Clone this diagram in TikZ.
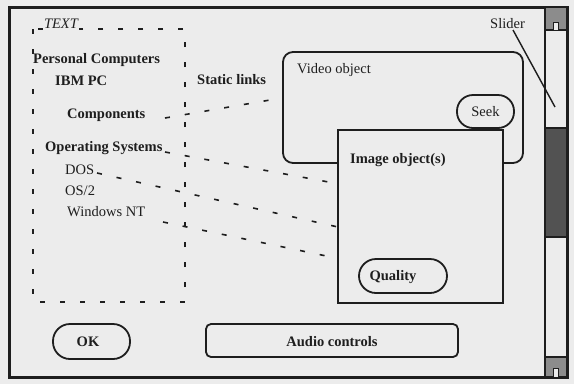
\documentclass[tikz,border=0pt]{standalone}
\usepackage{fontspec}
\setmainfont{Liberation Serif}
\definecolor{bg}{RGB}{236,236,236}
\definecolor{ink}{RGB}{30,30,30}
\begin{document}
\begin{tikzpicture}[x=1pt,y=-1pt]
\tikzset{
  txt/.style={inner sep=0pt, anchor=west, text=ink, font=\fontsize{14.5}{16}\selectfont, text height=9.5pt, text depth=3pt},
  btxt/.style={txt, font=\fontsize{14.5}{16}\selectfont\bfseries},
  ctxt/.style={txt, anchor=center},
  cbtxt/.style={btxt, anchor=center},
  boxline/.style={draw=ink, line width=1.8pt},
  btn/.style={boxline, fill=bg, inner sep=0pt, text=ink, font=\fontsize{14.5}{16}\selectfont\bfseries},
  linkline/.style={draw=ink, line width=1.6pt, dash pattern=on 5pt off 15pt},
  scrollcap/.style={draw=ink, line width=1.5pt, fill=black!45},
}
% background and bounding box
\fill[bg] (0,0) rectangle (574,384);
\useasboundingbox (0,0) rectangle (574,384);

% outer frame
\node[draw=ink, line width=3pt, minimum width=558pt, minimum height=370pt, inner sep=0pt] (frame) at (288,192) {};

% scrollbar
\draw[scrollcap] (545,7) rectangle (567,30);
\draw[draw=ink, line width=1pt, fill=bg] (553,30) |- (558,22) -- (558,30);
\draw[draw=ink, line width=1.5pt, fill=black!68] (545,128) rectangle (567,237);
\draw[scrollcap] (545,357) rectangle (567,377);
\draw[draw=ink, line width=1pt, fill=bg] (553,377) |- (558,368) -- (558,377);
\draw[draw=ink, line width=2pt] (545,7) -- (545,377);
\draw[draw=ink, line width=2pt] (567,7) -- (567,377);

% dashed TEXT box
\draw[draw=ink, line width=1.6pt, dash pattern=on 5pt off 15pt] (33,29) rectangle (185,302);
\node[inner sep=1pt, fill=bg, text=ink, font=\fontsize{14.5}{16}\selectfont\itshape] (textlbl) at (61,24) {TEXT};

% texts in the TEXT box
\node[btxt] (pc) at (33,60) {Personal Computers};
\node[btxt] (ibm) at (55,82) {IBM PC};
\node[btxt] (comp) at (67,115) {Components};
\node[btxt] (os) at (45,148) {Operating Systems};
\node[txt] (dos) at (65,171) {DOS};
\node[txt] (os2) at (65,192) {OS/2};
\node[txt] (nt) at (67,213) {Windows NT};

\node[btxt] (static) at (197,81) {Static links};

% video object
\node[boxline, fill=bg, rounded corners=10pt, minimum width=240pt, minimum height=111pt, inner sep=0pt] (video) at (403,107.5) {};
\node[txt] (videolbl) at (297,70) {Video object};

% image object
\node[boxline, fill=bg, minimum width=165pt, minimum height=173pt, inner sep=0pt] (image) at (420.5,216.5) {};
\node[btxt] (imagelbl) at (350,160) {Image object(s)};

% seek button
\node[btn, rounded corners=16pt, minimum width=57pt, minimum height=33pt, font=\fontsize{14.5}{16}\selectfont] (seek) at (485.5,111.5) {Seek};

% quality button
\node[btn, rounded corners=17pt, minimum width=88pt, minimum height=34pt] (quality) at (403,276) {};
\node[cbtxt] (qualitylbl) at (393,277) {Quality};

% audio controls
\node[btn, rounded corners=5pt, minimum width=252pt, minimum height=33pt] (audio) at (332,340.5) {};
\node[cbtxt] (audiolbl) at (332,343) {Audio controls};

% OK button
\node[btn, rounded corners=17pt, minimum width=77pt, minimum height=35pt] (ok) at (91.5,341.5) {};
\node[cbtxt] (oklbl) at (88,343) {OK};

% static link lines
\coordinate (s1) at (165,118);
\coordinate (e1) at (270,100);
\coordinate (s2) at (165,152);
\coordinate (e2) at (334,183);
\coordinate (s3) at (97,173);
\coordinate (e3) at (338,227);
\coordinate (s4) at (163,222);
\coordinate (e4) at (336,258);
\draw[linkline] (s1) -- (e1);
\draw[linkline] (s2) -- (e2);
\draw[linkline] (s3) -- (e3);
\draw[linkline] (s4) -- (e4);

% slider
\node[txt] (slider) at (490,25) {Slider};
\coordinate (sliderend) at (555,107);
\draw[draw=ink, line width=1.4pt] (513,30) -- (sliderend);
\end{tikzpicture}
\end{document}
